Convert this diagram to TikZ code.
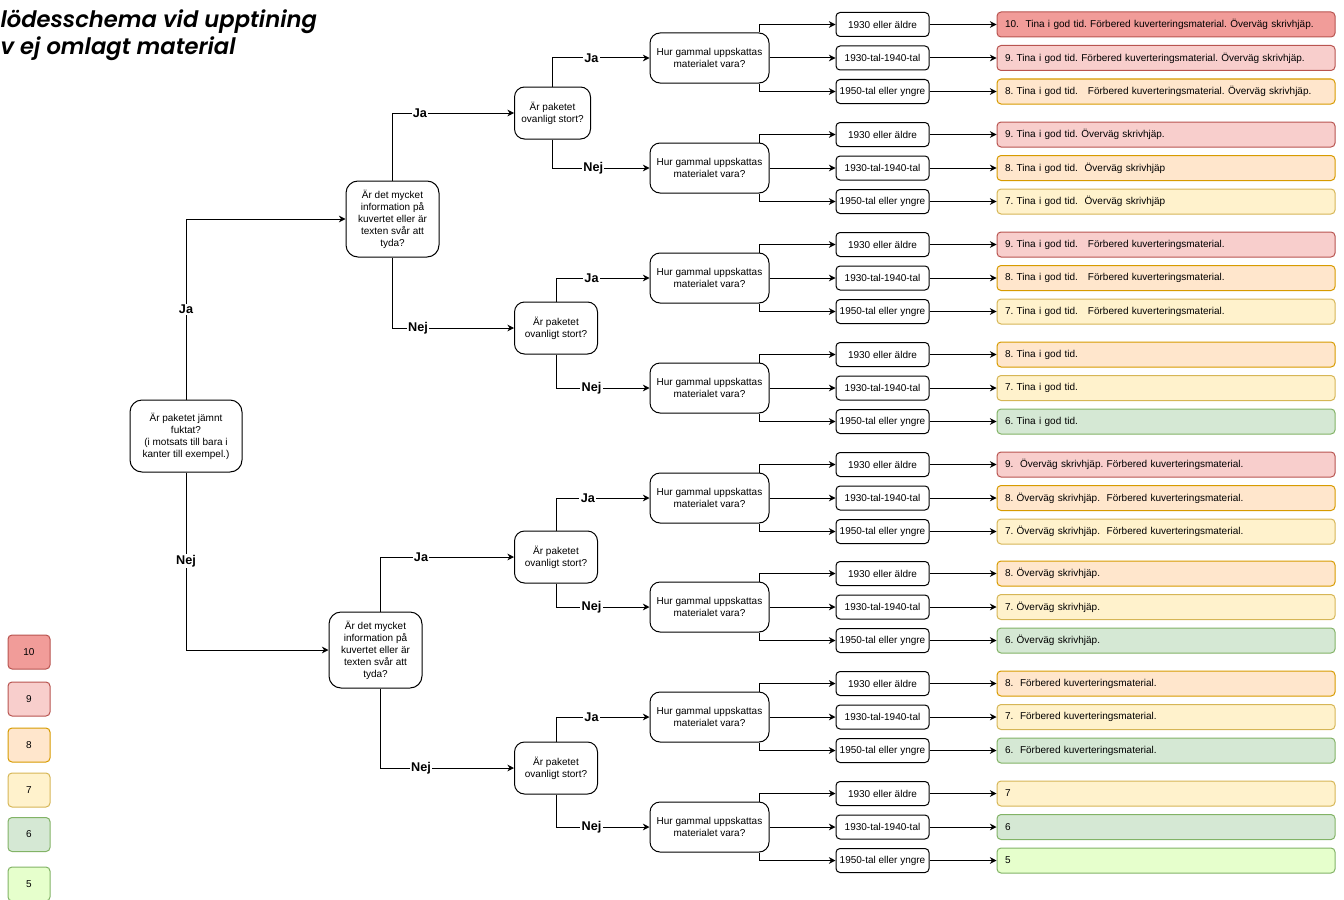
\documentclass[tikz,border=0pt]{standalone}
\usepackage{fontspec}
\setmainfont{Liberation Sans}
\newfontfamily\titlefont{Poppins}[BoldItalicFont={Poppins SemiBold Italic}]
\usetikzlibrary{arrows.meta}
\definecolor{f10}{HTML}{F19C99}\definecolor{s10}{HTML}{B85450}
\definecolor{f9}{HTML}{F8CECC}\definecolor{s9}{HTML}{B85450}
\definecolor{f8}{HTML}{FFE6CC}\definecolor{s8}{HTML}{D79B00}
\definecolor{f7}{HTML}{FFF2CC}\definecolor{s7}{HTML}{D6B656}
\definecolor{f6}{HTML}{D5E8D4}\definecolor{s6}{HTML}{82B366}
\definecolor{f5}{HTML}{E6FFCC}\definecolor{s5}{HTML}{82B366}
\frenchspacing
\begin{document}
\begin{tikzpicture}[x=0.75pt,y=-0.75pt,
  every node/.style={font=\fontsize{7.5}{9}\selectfont, line width=0.75pt},
  box/.style={draw, align=center, inner sep=2pt},
  rootbox/.style={box, rounded corners=9pt, minimum width=84pt, minimum height=54pt},
  abox/.style={box, rounded corners=9pt, minimum width=69.75pt, minimum height=57pt},
  bbox/.style={box, rounded corners=7.5pt, minimum width=62.25pt, minimum height=39pt},
  cbox/.style={box, rounded corners=7.5pt, minimum width=89.25pt, minimum height=37.5pt},
  dbox/.style={box, rounded corners=3pt, minimum width=69.75pt, minimum height=18pt},
  ebox/.style={draw, rounded corners=3pt, text width=241.5pt, inner xsep=6pt, minimum height=18.75pt, align=left},
  lbox/.style={draw, rounded corners=3pt, minimum width=31.5pt, minimum height=25.5pt},
  c10/.style={fill=f10, draw=s10}, c9/.style={fill=f9, draw=s9},
  c8/.style={fill=f8, draw=s8}, c7/.style={fill=f7, draw=s7},
  c6/.style={fill=f6, draw=s6}, c5/.style={fill=f5, draw=s5},
  arr/.style={-{Stealth[length=5pt,width=5pt]}, line width=0.75pt},
  lab/.style={fill=white, inner sep=1pt, font=\bfseries\fontsize{9.5}{10}\selectfont},
  ttl/.style={anchor=base west, inner sep=0pt, font=\titlefont\bfseries\itshape\fontsize{17}{20}\selectfont}]
\useasboundingbox (0,0) rectangle (1344,899);
\clip (0,0) rectangle (1344,899);
% title
\node[ttl] (t1) at (0,28) {lödesschema vid upptining};
\node[ttl] (t2) at (0,55) {v ej omlagt material};
% main decision nodes
\node[rootbox] (root) at (186,436) {Är paketet jämnt\\fuktat?\\(i motsats till bara i\\kanter till exempel.)};
\node[abox] (A1) at (392.5,219) {Är det mycket\\information på\\kuvertet eller är\\texten svår att\\tyda?};
\node[abox] (A2) at (375.5,650) {Är det mycket\\information på\\kuvertet eller är\\texten svår att\\tyda?};
\node[bbox, minimum width=57pt, inner xsep=1pt] (B1) at (552.5,113) {Är paketet\\ovanligt stort?};
\node[bbox] (B2) at (556,328) {Är paketet\\ovanligt stort?};
\node[bbox] (B3) at (556,557) {Är paketet\\ovanligt stort?};
\node[bbox] (B4) at (556,768) {Är paketet\\ovanligt stort?};
% edges root / A / B
\draw[arr] (root.north) |- (A1.west) node[lab,pos=0.25]{Ja};
\draw[arr] (root.south) |- (A2.west) node[lab,pos=0.25]{Nej};
\draw[arr] (A1.north) |- (B1.west) node[lab,pos=0.613]{Ja};
\draw[arr] (A1.south) |- (B2.west) node[lab,pos=0.605]{Nej};
\draw[arr] ([xshift=3.4pt]A2.north) |- (B3.west) node[lab,pos=0.653]{Ja};
\draw[arr] ([xshift=3.4pt]A2.south) |- (B4.west) node[lab,pos=0.653]{Nej};
% C and D nodes
\foreach \k/\cy in {1/58,2/168,3/278,4/388,5/498,6/607,7/717,8/827}{
  \node[cbox] (C\k) at (709.5,\cy) {Hur gammal uppskattas\\materialet vara?};
  \node[dbox] (D\k-a) at (882.5,\cy-33.5) {1930 eller äldre};
  \node[dbox] (D\k-b) at (882.5,\cy) {1930-tal-1940-tal};
  \node[dbox] (D\k-c) at (882.5,\cy+33.5) {1950-tal eller yngre};
  \draw[arr] ([xshift=-7.5pt]C\k.north east) |- (D\k-a.west);
  \draw[arr] (C\k.east) -- (D\k-b.west);
  \draw[arr] ([xshift=-7.5pt]C\k.south east) |- (D\k-c.west);
}
\draw[arr] (B1.north) |- (C1.west) node[lab,pos=0.70]{Ja};
\draw[arr] (B1.south) |- (C2.west) node[lab,pos=0.71]{Nej};
\draw[arr] (B2.north) |- (C3.west) node[lab,pos=0.69]{Ja};
\draw[arr] (B2.south) |- (C4.west) node[lab,pos=0.69]{Nej};
\draw[arr] (B3.north) |- (C5.west) node[lab,pos=0.67]{Ja};
\draw[arr] (B3.south) |- (C6.west) node[lab,pos=0.69]{Nej};
\draw[arr] (B4.north) |- (C7.west) node[lab,pos=0.69]{Ja};
\draw[arr] (B4.south) |- (C8.west) node[lab,pos=0.69]{Nej};
% outcome nodes
\foreach \k/\j/\st/\txt in {
 1/a/c10/10.~ Tina i god tid. Förbered kuverteringsmaterial. Överväg skrivhjäp.,
 1/b/c9/9. Tina i god tid. Förbered kuverteringsmaterial. Överväg skrivhjäp.,
 1/c/c8/8. Tina i god tid.~~ Förbered kuverteringsmaterial. Överväg skrivhjäp.,
 2/a/c9/9. Tina i god tid. Överväg skrivhjäp.,
 2/b/c8/8. Tina i god tid.~ Överväg skrivhjäp,
 2/c/c7/7. Tina i god tid.~ Överväg skrivhjäp,
 3/a/c9/9. Tina i god tid.~~ Förbered kuverteringsmaterial.,
 3/b/c8/8. Tina i god tid.~~ Förbered kuverteringsmaterial.,
 3/c/c7/7. Tina i god tid.~~ Förbered kuverteringsmaterial.,
 4/a/c8/8. Tina i god tid.,
 4/b/c7/7. Tina i god tid.,
 4/c/c6/6. Tina i god tid.,
 5/a/c9/9.~ Överväg skrivhjäp. Förbered kuverteringsmaterial.,
 5/b/c8/8. Överväg skrivhjäp.~ Förbered kuverteringsmaterial.,
 5/c/c7/7. Överväg skrivhjäp.~ Förbered kuverteringsmaterial.,
 6/a/c8/8. Överväg skrivhjäp.,
 6/b/c7/7. Överväg skrivhjäp.,
 6/c/c6/6. Överväg skrivhjäp.,
 7/a/c8/8.~ Förbered kuverteringsmaterial.,
 7/b/c7/7.~ Förbered kuverteringsmaterial.,
 7/c/c6/6.~ Förbered kuverteringsmaterial.,
 8/a/c7/7,
 8/b/c6/6,
 8/c/c5/5}{
  \node[ebox,\st,anchor=west] (E\k-\j) at ([xshift=50.25pt]D\k-\j.east) {\txt};
  \draw[arr] (D\k-\j.east) -- (E\k-\j.west);
}
% legend
\node[lbox,c10] (L10) at (29,652) {10};
\node[lbox,c9] (L9) at (29,699) {9};
\node[lbox,c8] (L8) at (29,745) {8};
\node[lbox,c7] (L7) at (29,790) {7};
\node[lbox,c6] (L6) at (29,834.5) {6};
\node[lbox,c5] (L5) at (29,884) {5};
\end{tikzpicture}
\end{document}
